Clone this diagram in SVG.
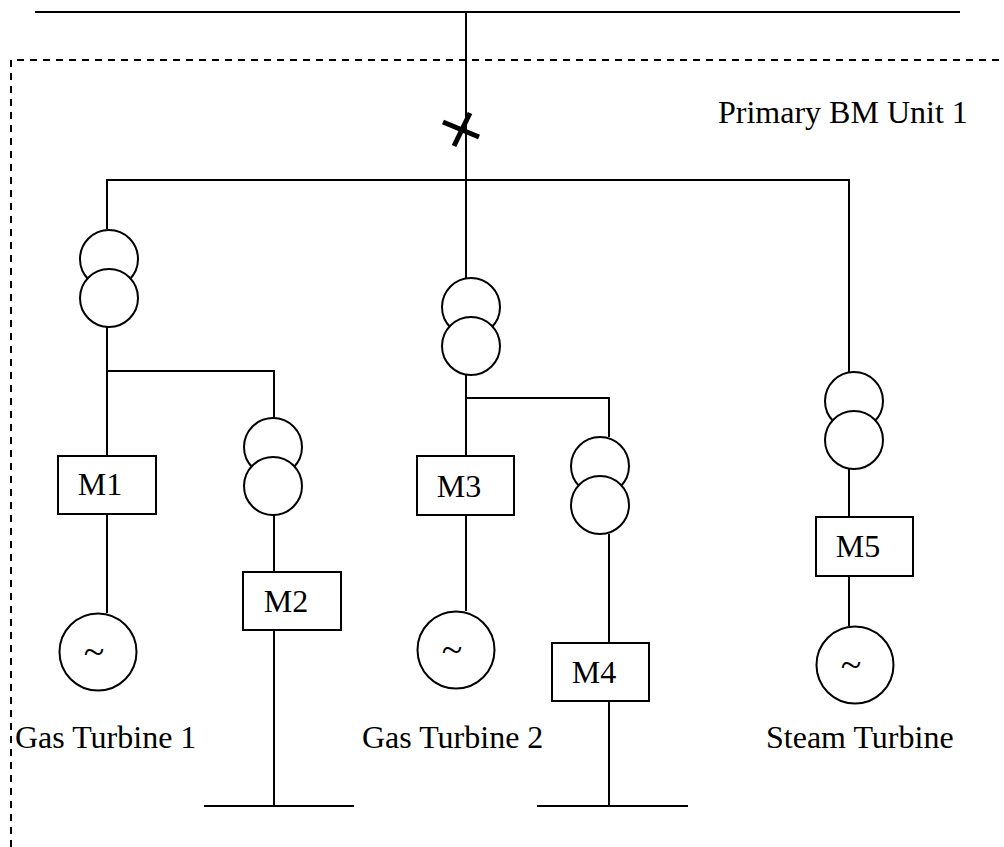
<svg xmlns="http://www.w3.org/2000/svg" width="1004" height="847" viewBox="0 0 1004 847">
<style>
.ln{stroke:#000;stroke-width:2;fill:none}
.sh{stroke:#000;stroke-width:2;fill:#fff}
.dash{stroke:#000;stroke-width:2;fill:none;stroke-dasharray:7 6}
.brk{stroke:#000;stroke-width:5;fill:none}
.t{font-family:"Liberation Serif","Times New Roman",serif;font-size:32px;fill:#000}
.tl{font-family:"Liberation Serif","Times New Roman",serif;font-size:38px;fill:#000}
</style>
<rect width="1004" height="847" fill="#fff"/>
<g id="boundary">
<path class="dash" d="M11,847 V60 H1004"/>
<text class="t" x="718" y="123">Primary BM Unit 1</text>
</g>
<g id="connectors">
<line class="ln" x1="35" y1="12" x2="960" y2="12"/>
<line class="ln" x1="466" y1="12" x2="466" y2="278"/>
<polyline class="ln" points="107,229 107,180 849,180 849,372"/>
<line class="ln" x1="107" y1="327" x2="107" y2="456"/>
<polyline class="ln" points="107,371 274,371 274,418"/>
<line class="ln" x1="107" y1="514" x2="107" y2="613"/>
<line class="ln" x1="274" y1="514" x2="274" y2="572"/>
<line class="ln" x1="274" y1="630" x2="274" y2="806"/>
<line class="ln" x1="204" y1="806" x2="354" y2="806"/>
<line class="ln" x1="466" y1="375" x2="466" y2="456"/>
<polyline class="ln" points="466,398 609,398 609,437"/>
<line class="ln" x1="466" y1="515" x2="466" y2="611"/>
<line class="ln" x1="609" y1="534" x2="609" y2="643"/>
<line class="ln" x1="609" y1="701" x2="609" y2="806"/>
<line class="ln" x1="537" y1="806" x2="688" y2="806"/>
<line class="ln" x1="849" y1="469" x2="849" y2="517"/>
<line class="ln" x1="849" y1="576" x2="849" y2="626"/>
</g>
<g id="breaker">
<line class="brk" x1="443" y1="122" x2="479" y2="137"/>
<line class="brk" x1="470" y1="113" x2="454" y2="146"/>
</g>
<g id="T1">
<circle class="sh" cx="109" cy="259" r="29"/>
<circle class="sh" cx="109" cy="298" r="29"/>
</g>
<g id="T2">
<circle class="sh" cx="273" cy="447" r="29"/>
<circle class="sh" cx="273" cy="486" r="29"/>
</g>
<g id="T3">
<circle class="sh" cx="471" cy="307" r="29"/>
<circle class="sh" cx="471" cy="346" r="29"/>
</g>
<g id="T4">
<circle class="sh" cx="600" cy="466" r="29"/>
<circle class="sh" cx="600" cy="505" r="29"/>
</g>
<g id="T5">
<circle class="sh" cx="854" cy="401" r="29"/>
<circle class="sh" cx="854" cy="440" r="29"/>
</g>
<g id="M1">
<rect class="sh" x="58" y="456" width="98" height="58"/>
<text class="t" x="100" y="495" text-anchor="middle">M1</text>
</g>
<g id="M2">
<rect class="sh" x="243" y="572" width="98" height="58"/>
<text class="t" x="286" y="612" text-anchor="middle">M2</text>
</g>
<g id="M3">
<rect class="sh" x="417" y="456" width="97" height="59"/>
<text class="t" x="459" y="497" text-anchor="middle">M3</text>
</g>
<g id="M4">
<rect class="sh" x="552" y="643" width="97" height="58"/>
<text class="t" x="594" y="683" text-anchor="middle">M4</text>
</g>
<g id="M5">
<rect class="sh" x="816" y="517" width="97" height="59"/>
<text class="t" x="858" y="557" text-anchor="middle">M5</text>
</g>
<g id="GT1">
<circle class="sh" cx="98" cy="652" r="38.5"/>
<text class="tl" x="94" y="664" text-anchor="middle">~</text>
<text class="t" x="15" y="748">Gas Turbine 1</text>
</g>
<g id="GT2">
<circle class="sh" cx="456" cy="650" r="38.5"/>
<text class="tl" x="452" y="662" text-anchor="middle">~</text>
<text class="t" x="362" y="748">Gas Turbine 2</text>
</g>
<g id="ST">
<circle class="sh" cx="855" cy="665" r="38.5"/>
<text class="tl" x="851" y="677" text-anchor="middle">~</text>
<text class="t" x="766" y="748">Steam Turbine</text>
</g>
</svg>
